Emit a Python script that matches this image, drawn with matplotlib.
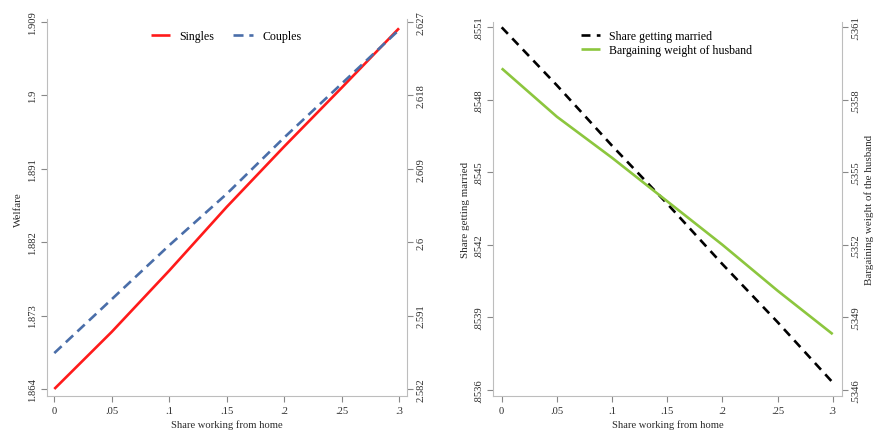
import numpy as np
import matplotlib
matplotlib.use("Agg")
import matplotlib.pyplot as plt

plt.rcParams['font.family'] = ['Liberation Serif', 'DejaVu Serif']

# share working from home
wfh = [0, .05, .1, .15, .2, .25, .3]

# welfare: singles (left axis), couples (right axis)
welfare_singles = [1.864, 1.8710, 1.8785, 1.8863, 1.8937, 1.9009, 1.9082]
welfare_couples = [2.5864, 2.5930, 2.5996, 2.6059, 2.6128, 2.6194, 2.6260]

# marriage share (left axis), husband's bargaining weight (right axis)
share_married = [.85510, .85486, .85461, .85437, .85412, .85388, .85363]
bargain_weight = [.53593, .53573, .53556, .53538, .53520, .53501, .53483]

welfare_ticks = [1.864, 1.873, 1.882, 1.891, 1.9, 1.909]
welfare_labels = ['1.864', '1.873', '1.882', '1.891', '1.9', '1.909']
couples_ticks = [2.582, 2.591, 2.6, 2.609, 2.618, 2.627]
couples_labels = ['2.582', '2.591', '2.6', '2.609', '2.618', '2.627']
married_ticks = [.8536, .8539, .8542, .8545, .8548, .8551]
married_labels = ['.8536', '.8539', '.8542', '.8545', '.8548', '.8551']
weight_ticks = [.5346, .5349, .5352, .5355, .5358, .5361]
weight_labels = ['.5346', '.5349', '.5352', '.5355', '.5358', '.5361']
x_ticks = [0, .05, .1, .15, .2, .25, .3]
x_labels = ['0', '.05', '.1', '.15', '.2', '.25', '.3']

W, H = 874, 431
fig = plt.figure(figsize=(W / 100, H / 100), dpi=100)

AXC = '#bdbdbd'
TXT = '#2b2b2b'
FS = 7.6


def px(l, b, r, t):
    return [l / W, 1 - b / H, (r - l) / W, (b - t) / H]


def style(ax, side):
    for s in ['top', 'left', 'right', 'bottom']:
        ax.spines[s].set_visible(False)
    ax.spines['bottom'].set_visible(side == 'left')
    ax.spines[side].set_visible(True)
    ax.spines[side].set_color(AXC)
    ax.spines['bottom'].set_color(AXC)
    ax.tick_params(colors='#888888', labelcolor=TXT, labelsize=FS,
                   length=4, width=0.8, direction='out')
    ax.tick_params(axis='x', pad=3)
    ax.tick_params(axis='y', pad=3, labelrotation=90)
    for t in ax.get_yticklabels():
        t.set_va('center')


def panel(box, xlim, x1, y1, ylim1, t1, l1, c1, ls1,
          y2, ylim2, t2, l2, c2, ls2):
    ax = fig.add_axes(px(*box))
    ax.plot(wfh, y1, color=c1, lw=1.9, **ls1)
    ax.set_xlim(*xlim)
    ax.set_ylim(*ylim1)
    ax.set_xticks(x_ticks, x_labels)
    ax.set_yticks(t1, l1)
    ax.set_facecolor('none')
    ax2 = ax.twinx()
    ax2.plot(wfh, y2, color=c2, lw=1.9, **ls2)
    ax2.set_ylim(*ylim2)
    ax2.set_yticks(t2, l2)
    style(ax, 'left')
    style(ax2, 'right')
    ax2.spines['bottom'].set_visible(False)
    for t in ax2.get_yticklabels():
        t.set_va('center')
    ax.set_xlabel('Share working from home', fontsize=FS, color=TXT, labelpad=3)
    return ax, ax2


solid = dict(ls='-', solid_capstyle='butt')
blue_dash = dict(ls=(0, (3.8, 2.2)), dash_capstyle='butt')
black_dash = dict(ls=(0, (3.4, 2.4)), dash_capstyle='butt')

# left panel: welfare
axA, axA2 = panel((47, 397, 407, 20), (-0.00635, 0.30696),
                  wfh, welfare_singles, (1.86314, 1.90934),
                  welfare_ticks, welfare_labels, '#ff1a1a', solid,
                  welfare_couples, (2.58114, 2.62734),
                  couples_ticks, couples_labels, '#4a6ea9', blue_dash)
fig.text(18 / W, 1 - 210 / H, 'Welfare', rotation=90, ha='center',
         va='center', fontsize=FS + 0.3, color=TXT)
fig.legend(handles=axA.get_lines() + axA2.get_lines(),
           labels=['Singles', 'Couples'], loc='center',
           bbox_to_anchor=(226 / W, 1 - 37 / H), ncol=2, frameon=False,
           fontsize=8.6, handlelength=1.6, handletextpad=0.8,
           columnspacing=1.6)

# right panel: marriage and bargaining
axB, axB2 = panel((493, 397, 842, 23), (-0.00788, 0.30843),
                  wfh, share_married, (.853574, .855122),
                  married_ticks, married_labels, '#000000', black_dash,
                  bargain_weight, (.534574, .536122),
                  weight_ticks, weight_labels, '#8cc63e', solid)
fig.text(465 / W, 1 - 210 / H, 'Share getting married', rotation=90,
         ha='center', va='center', fontsize=FS + 0.3, color=TXT)
fig.text(869 / W, 1 - 210 / H, 'Bargaining weight of the husband',
         rotation=90, ha='center', va='center', fontsize=FS + 0.3, color=TXT)
fig.legend(handles=axB.get_lines() + axB2.get_lines(),
           labels=['Share getting married', 'Bargaining weight of husband'],
           loc='center left', bbox_to_anchor=(570 / W, 1 - 44 / H),
           frameon=False, fontsize=8.6, handlelength=1.6,
           handletextpad=0.8, labelspacing=0.2)

fig.savefig('out.png', dpi=100)
